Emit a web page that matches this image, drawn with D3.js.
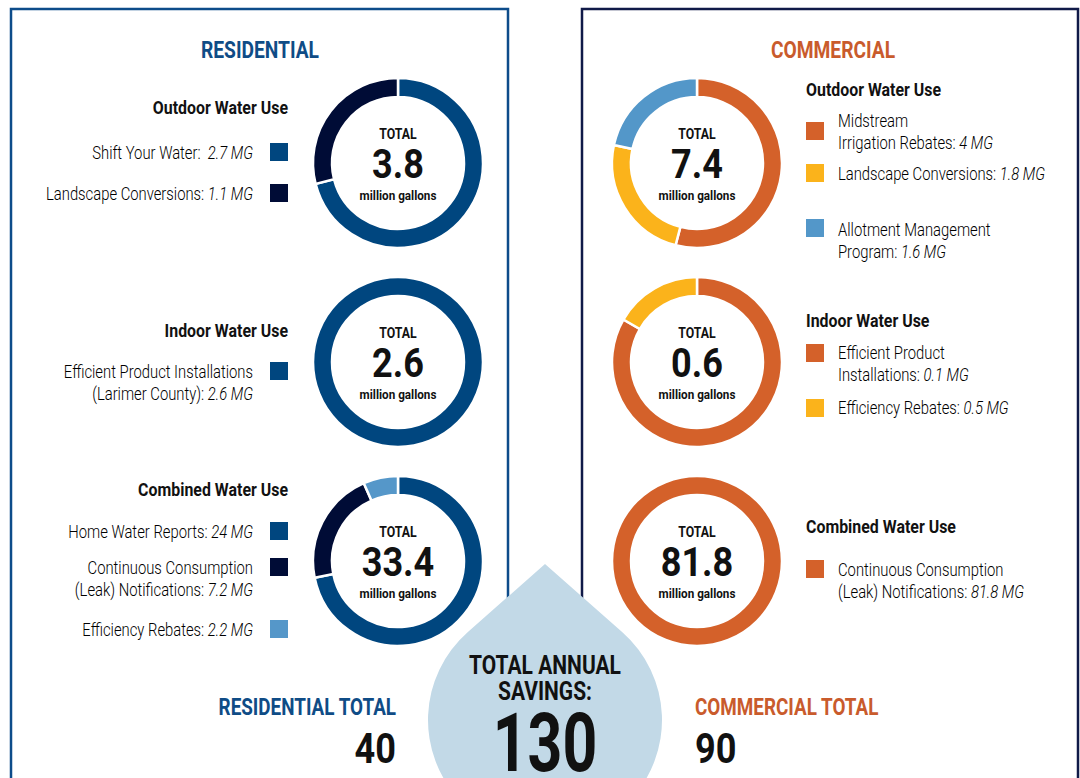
<!DOCTYPE html>
<html>
<head>
<meta charset="utf-8">
<script src="https://cdn.jsdelivr.net/npm/d3@7"></script>
<style>
  html, body { margin: 0; padding: 0; background: #fff; }
  svg { display: block; font-family: Roboto, "Noto Sans", sans-serif; }
  text { white-space: pre; }
</style>
</head>
<body>
<div id="root"></div>
<script>
// ---- data ----
const sectionTitles = ["Outdoor Water Use", "Indoor Water Use", "Combined Water Use"];

const resOutdoorNames = [["Shift Your Water:  "], ["Landscape Conversions: "]];
const resOutdoorValues = [2.7, 1.1];
const resIndoorNames = [["Efficient Product Installations", "(Larimer County): "]];
const resIndoorValues = [2.6];
const resCombinedNames = [["Home Water Reports: "], ["Continuous Consumption", "(Leak) Notifications: "], ["Efficiency Rebates: "]];
const resCombinedValues = [24, 7.2, 2.2];

const comOutdoorNames = [["Midstream", "Irrigation Rebates: "], ["Landscape Conversions: "], ["Allotment Management", "Program: "]];
const comOutdoorValues = [4, 1.8, 1.6];
const comIndoorNames = [["Efficient Product", "Installations: "], ["Efficiency Rebates: "]];
const comIndoorValues = [0.1, 0.5];
// the source ring shows the two indoor slices the other way round from the legend
const comIndoorRing = [0.5, 0.1];
const comCombinedNames = [["Continuous Consumption", "(Leak) Notifications: "]];
const comCombinedValues = [81.8];

const resColors = [["#00467f", "#000c36"], ["#00467f"], ["#00467f", "#000c36", "#5597c9"]];
const comColors = [["#d4612a", "#fbb31b", "#5397c9"], ["#d4612a", "#fbb31b"], ["#d4612a"]];

// ---- layout ----
const width = 1080, height = 778;
const rowCy = [163, 362, 561];
const R = 85, r = 66;
const lineH = 22.5;

const svg = d3.select("#root").append("svg")
  .attr("width", width)
  .attr("height", height);

function label(g, x, y, parts, o) {
  const t = g.append("text")
    .attr("transform", "translate(" + x + "," + y + ") scale(" + o.sx + ",1)")
    .attr("text-anchor", o.anchor || "start")
    .attr("fill", o.fill || "#111")
    .style("font-size", o.size + "px")
    .style("font-weight", o.weight || 400);
  parts.forEach(function(p) {
    t.append("tspan").text(p.text).style("font-style", p.italic ? "italic" : null);
  });
  return t;
}
// baseline from a visual centre line
const base = (cy, size) => cy + size * 0.355;

// panels
svg.append("path")
  .attr("d", "M11," + height + "V9H508V" + height)
  .attr("fill", "none").attr("stroke", "#0d4c8a").attr("stroke-width", 2.5);
svg.append("path")
  .attr("d", "M582," + height + "V9H1078V" + height)
  .attr("fill", "none").attr("stroke", "#101a48").attr("stroke-width", 2.5);

label(svg, 260, base(49, 24), [{text: "RESIDENTIAL"}], {size: 24, weight: 700, sx: 0.8, anchor: "middle", fill: "#0f4c86"});
label(svg, 833, base(49, 24), [{text: "COMMERCIAL"}], {size: 24, weight: 700, sx: 0.8, anchor: "middle", fill: "#c95b2c"});

const pie = d3.pie().sort(null).value(d => d);
const arc = d3.arc().innerRadius(r).outerRadius(R);
const fmt1 = d3.format(".1f");

function donut(cx, cy, values, colors) {
  const g = svg.append("g").attr("transform", "translate(" + cx + "," + cy + ")");
  g.selectAll("path")
    .data(pie(values))
    .enter().append("path")
    .attr("d", arc)
    .attr("fill", (d, i) => colors[i])
    .attr("stroke", "#fff")
    .attr("stroke-width", 2.5);
  label(g, 0, -24, [{text: "TOTAL"}], {size: 15, weight: 700, sx: 0.82, anchor: "middle"});
  label(g, 0, 15, [{text: fmt1(d3.sum(values))}], {size: 41, weight: 700, sx: 0.88, anchor: "middle"});
  label(g, 0, 37, [{text: "million gallons"}], {size: 13, weight: 700, sx: 0.9, anchor: "middle"});
}

function legendRows(names, values, colors, rowsY, swY, side) {
  names.forEach(function(lines, i) {
    lines.forEach(function(line, j) {
      const parts = [{text: line}];
      if (j === lines.length - 1) parts.push({text: values[i] + " MG", italic: true});
      const y = base(rowsY[i] + j * lineH, 18.5);
      const o = {size: 18.5, weight: 300, sx: 0.8, fill: "#000"};
      if (side === "left") label(svg, 253, y, parts, Object.assign(o, {anchor: "end"}));
      else label(svg, 838, y, parts, o);
    });
    svg.append("rect")
      .attr("x", side === "left" ? 270 : 806)
      .attr("y", swY[i] - 9)
      .attr("width", 18).attr("height", 18)
      .attr("fill", colors[i]);
  });
}

// residential
const resNames = [resOutdoorNames, resIndoorNames, resCombinedNames];
const resValues = [resOutdoorValues, resIndoorValues, resCombinedValues];
const resHeadY = [107, 330, 489];
const resRowsY = [[152, 193], [371], [531, 567, 629]];
resNames.forEach(function(n, k) {
  label(svg, 288, base(resHeadY[k], 18.5), [{text: sectionTitles[k]}], {size: 18.5, weight: 700, sx: 0.86, anchor: "end"});
  legendRows(n, resValues[k], resColors[k], resRowsY[k], resRowsY[k], "left");
  donut(398, rowCy[k], resValues[k], resColors[k]);
});

// commercial
const comNames = [comOutdoorNames, comIndoorNames, comCombinedNames];
const comValues = [comOutdoorValues, comIndoorValues, comCombinedValues];
const comRing = [comOutdoorValues, comIndoorRing, comCombinedValues];
const comHeadY = [89, 320, 526];
const comRowsY = [[120, 173, 229], [352, 407], [569]];
const comSwY = [[131, 173, 228], [353, 408], [569]];
comNames.forEach(function(n, k) {
  label(svg, 806, base(comHeadY[k], 18.5), [{text: sectionTitles[k]}], {size: 18.5, weight: 700, sx: 0.86});
  legendRows(n, comValues[k], comColors[k], comRowsY[k], comSwY[k], "right");
  donut(697, rowCy[k], comRing[k], comColors[k]);
});

// drop
const dc = {x: 545, y: 720}, dR = 117, tipY = 564;
const dd = dc.y - tipY;
const phi = Math.asin(dR / dd);
const tx = dR * Math.cos(phi), ty = dc.y - dR * Math.sin(phi);
svg.append("path")
  .attr("d", "M" + dc.x + "," + tipY + "L" + (dc.x + tx) + "," + ty +
    "A" + dR + "," + dR + " 0 1 1 " + (dc.x - tx) + "," + ty + "Z")
  .attr("fill", "#c2d9e7");

const fmt0 = d3.format(".0f");
const resTotal = d3.sum(resValues.flat());
const comTotal = d3.sum(comValues.flat());

label(svg, 545, 674, [{text: "TOTAL ANNUAL"}], {size: 25, weight: 700, sx: 0.84, anchor: "middle"});
label(svg, 545, 700, [{text: "SAVINGS:"}], {size: 25, weight: 700, sx: 0.84, anchor: "middle"});
label(svg, 545, 771, [{text: fmt0(resTotal + comTotal)}], {size: 81, weight: 700, sx: 0.75, anchor: "middle"});

label(svg, 396, 715, [{text: "RESIDENTIAL TOTAL"}], {size: 23, weight: 700, sx: 0.82, anchor: "end", fill: "#0f4c86"});
label(svg, 396, 763, [{text: fmt0(resTotal)}], {size: 42, weight: 700, sx: 0.86, anchor: "end"});
label(svg, 695, 715, [{text: "COMMERCIAL TOTAL"}], {size: 23, weight: 700, sx: 0.82, fill: "#c95b2c"});
label(svg, 695, 763, [{text: fmt0(comTotal)}], {size: 42, weight: 700, sx: 0.86});
</script>
</body>
</html>
